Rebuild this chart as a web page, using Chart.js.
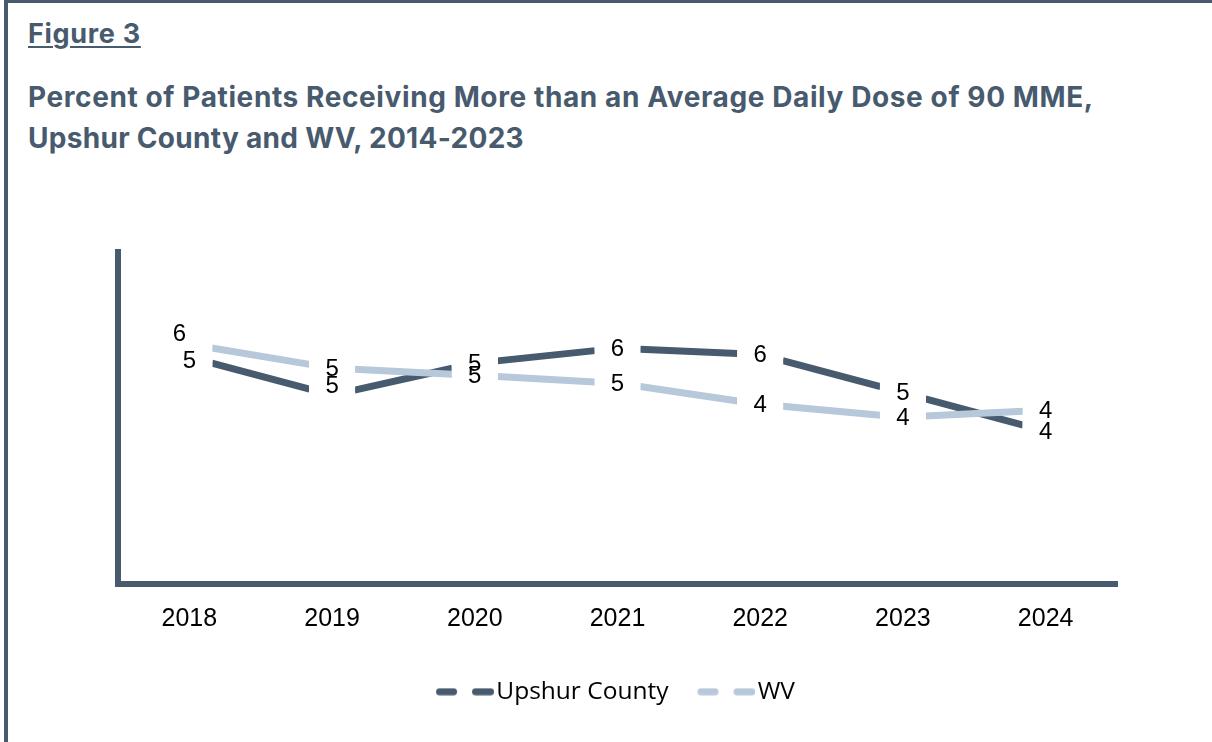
<!DOCTYPE html>
<html>
<head>
<meta charset="utf-8">
<script src="https://cdn.jsdelivr.net/npm/chart.js@4.4.1/dist/chart.umd.min.js"></script>
<style>
  html, body { margin: 0; padding: 0; background: #fff; }
  #wrap { position: relative; width: 1212px; height: 742px; overflow: hidden; background: #fff; }
  #frame { position: absolute; left: 4px; top: 0; width: 1400px; height: 900px;
           border-left: 4px solid #475A6E; border-top: 3px solid #475A6E; box-sizing: border-box; }
  #fig { position: absolute; left: 28px; top: 17px; font-family: Inter, "Noto Sans", sans-serif;
         font-weight: 700; font-size: 27px; letter-spacing: 0.7px; color: #475A6E; text-decoration: underline;
         text-decoration-thickness: 2px; text-underline-offset: 3px; white-space: nowrap; }
  #title { position: absolute; left: 28px; top: 77px; font-family: Inter, "Noto Sans", sans-serif;
           font-weight: 700; font-size: 28px; letter-spacing: 0.6px; line-height: 41px; color: #475A6E; white-space: nowrap; }
  #title .l2 { letter-spacing: 0.3px; }
  #c { position: absolute; left: 0; top: 0; }
</style>
</head>
<body>
<div id="wrap">
  <div id="frame"></div>
  <div id="fig">Figure 3</div>
  <div id="title">Percent of Patients Receiving More than an Average Daily Dose of 90 MME,<br><span class="l2">Upshur County and WV, 2014-2023</span></div>
  <canvas id="c" width="1212" height="742"></canvas>
</div>
<script>
// ---- data ----
const years = ['2018', '2019', '2020', '2021', '2022', '2023', '2024'];
const upshurCounty = [5.47, 4.55, 5.32, 5.68, 5.53, 4.61, 3.68];
const wvState = [5.78, 5.20, 5.03, 4.84, 4.33, 4.02, 4.19];
const seriesNames = ['Upshur County', 'WV'];

const DARK = '#475A6E';
const LIGHT = '#B6C8DA';

function legendImage(color) {
  const c = document.createElement('canvas');
  c.width = 64; c.height = 8;
  const g = c.getContext('2d');
  g.fillStyle = color;
  const rr = (x, w) => {
    g.beginPath();
    g.roundRect(x, 0.5, w, 7, 3.5);
    g.fill();
  };
  rr(6, 21);
  rr(42, 22);
  return c;
}
const legendImgs = { [DARK]: legendImage(DARK), [LIGHT]: legendImage(LIGHT) };

// manual nudges of some data labels (dataset index -> point index -> [dx, dy])
const labelNudge = { 0: { 0: [-10, -11] }, 1: { 0: [0, 3], 1: [0, -10] } };

// Excel-style blank square markers that break each line around its points
const GAP_X = 22.5;
function segmentGap(ctx) {
  const dx = ctx.p1.x - ctx.p0.x, dy = ctx.p1.y - ctx.p0.y;
  const L = Math.hypot(dx, dy);
  if (!isFinite(L) || Math.abs(dx) < 1) return undefined;
  const g = GAP_X * L / Math.abs(dx);
  return [0, g, Math.max(L - 2 * g, 0), g + 2000];
}

const markersAndLabels = {
  id: 'markersAndLabels',
  afterDatasetsDraw(chart) {
    const ctx = chart.ctx;
    ctx.save();
    ctx.fillStyle = '#ffffff';
    chart.data.datasets.forEach((ds, di) => {
      chart.getDatasetMeta(di).data.forEach(pt => {
        ctx.fillRect(pt.x - GAP_X, pt.y - GAP_X, GAP_X * 2, GAP_X * 2);
      });
    });
    ctx.font = '24px "Liberation Sans", Arial, sans-serif';
    ctx.fillStyle = '#000';
    ctx.textAlign = 'center';
    ctx.textBaseline = 'middle';
    chart.data.datasets.forEach((ds, di) => {
      const meta = chart.getDatasetMeta(di);
      meta.data.forEach((pt, i) => {
        const n = (labelNudge[di] && labelNudge[di][i]) || [0, 0];
        ctx.fillText(String(Math.round(ds.data[i])), pt.x + n[0], pt.y + n[1] + 1);
      });
    });
    ctx.restore();
  }
};

const LEG_PAD = 33;
const LEG_FONT = 24.5;
const markerOpts = {
  pointStyle: 'rect',
  pointRadius: GAP_X * Math.SQRT2,
  pointBackgroundColor: '#ffffff',
  pointBorderColor: '#ffffff',
  pointBorderWidth: 1,
  segment: { borderDash: segmentGap }
};

new Chart(document.getElementById('c'), {
  type: 'line',
  data: {
    labels: years,
    datasets: [
      Object.assign({ label: seriesNames[1], data: wvState, borderColor: LIGHT, backgroundColor: LIGHT }, markerOpts),
      Object.assign({ label: seriesNames[0], data: upshurCounty, borderColor: DARK, backgroundColor: DARK }, markerOpts)
    ]
  },
  options: {
    responsive: false,
    animation: false,
    layout: { padding: { left: 118, right: 95, top: 252, bottom: 28 } },
    elements: {
      line: { borderWidth: 7, tension: 0, borderCapStyle: 'butt' }
    },
    scales: {
      x: {
        offset: true,
        grid: { display: false, drawTicks: false },
        border: { display: true, color: DARK, width: 6 },
        ticks: { color: '#000', padding: 20, font: { family: '"Liberation Sans", Arial, sans-serif', size: 25 } },
        afterFit(s) { s.height = 742 - 28 - (LEG_FONT + 10 + LEG_PAD) - 584; }
      },
      y: {
        min: 0, max: 8,
        grid: { display: false, drawTicks: false },
        border: { display: true, color: DARK, width: 6 },
        ticks: { display: false },
        afterFit(s) { s.width = 0; }
      }
    },
    plugins: {
      tooltip: { enabled: false },
      legend: {
        position: 'bottom',
        reverse: true,
        labels: {
          usePointStyle: true,
          pointStyleWidth: 44,
          padding: LEG_PAD,
          color: '#000',
          font: { family: '"Open Sans", Arial, sans-serif', size: LEG_FONT },
          generateLabels(chart) {
            const items = Chart.defaults.plugins.legend.labels.generateLabels(chart);
            items.forEach(it => {
              const ds = chart.data.datasets[it.datasetIndex];
              it.pointStyle = legendImgs[ds.borderColor];
              it.lineWidth = 0;
              it.lineDash = [];
            });
            return items;
          }
        }
      }
    }
  },
  plugins: [markersAndLabels]
});
</script>
</body>
</html>
